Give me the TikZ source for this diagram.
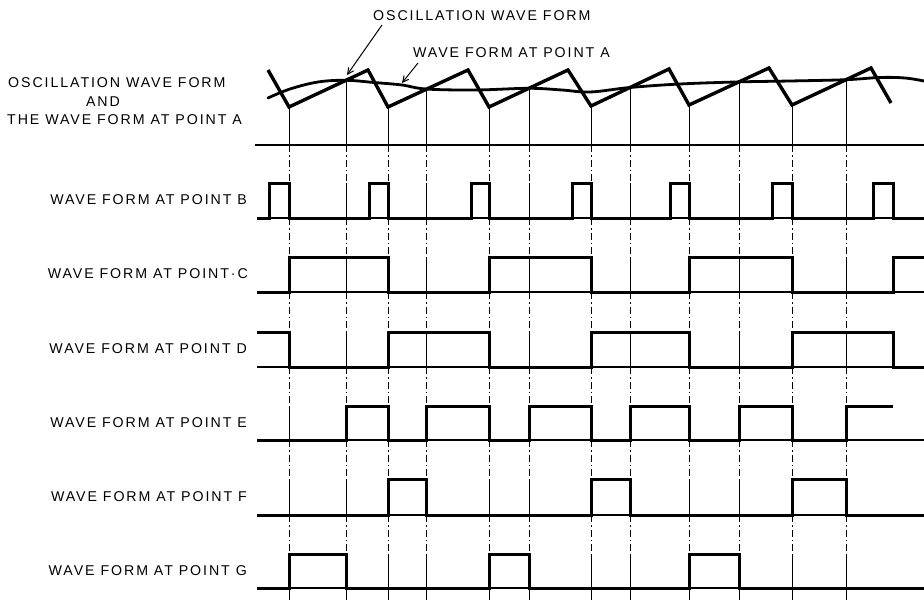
\documentclass[tikz,border=0pt]{standalone}
\usepackage{fontspec}
\usetikzlibrary{arrows.meta}
\newfontfamily\labfont[LetterSpace=13.5]{Liberation Sans}
\begin{document}
\begin{tikzpicture}[x=1pt,y=-1pt,
  lab/.style={font=\labfont\fontsize{14.2}{17}\selectfont, inner sep=0pt, text=black},
  sig/.style={line width=3pt, line join=miter, line cap=butt},
  saw/.style={line width=3.4pt, line join=miter},
  slow/.style={line width=2.8pt, line cap=round},
  base/.style={line width=1.4pt},
  gridsolid/.style={line width=0.9pt},
  griddash/.style={line width=0.9pt, dash pattern=on 7pt off 3pt on 1.5pt off 3pt},
  leader/.style={line width=1pt, -{Straight Barb[length=6pt,width=6pt]}}]
\useasboundingbox (0,0) rectangle (924,602);
\fill[white] (0,0) rectangle (924,602);

% ---------- labels ----------
\node[lab, anchor=west] (la1) at (8,83) {OSCILLATION WAVE FORM};
\node[lab] (la2) at (103,102) {AND};
\node[lab, anchor=west] (la3) at (7,120) {THE WAVE FORM AT POINT A};
\node[lab, anchor=east] (lb) at (247,200) {WAVE FORM AT POINT B};
\node[lab, anchor=east] (lc) at (248,274) {WAVE FORM AT POINT·C};
\node[lab, anchor=east] (ld) at (247,349) {WAVE FORM AT POINT D};
\node[lab, anchor=east] (le) at (247,423) {WAVE FORM AT POINT E};
\node[lab, anchor=east] (lf) at (247,497) {WAVE FORM AT POINT F};
\node[lab, anchor=east] (lg) at (247,571) {WAVE FORM AT POINT G};
\node[lab, anchor=west] (tosc) at (373,16) {OSCILLATION WAVE FORM};
\node[lab, anchor=west] (tpa) at (413,53) {WAVE FORM AT POINT A};

% ---------- grid lines ----------
\foreach \x/\t in {289/107,388/107,489/107,591/106,689/105,792/105,
                   346/80.3,426/89.4,529/88.3,630/87.5,739/81.9,846/79.7}{
  \draw[gridsolid] (\x,\t) -- (\x,145);
  \foreach \a/\b in {183/218,257/292,332/367,406/440,479/515,554/600}
    \draw[gridsolid] (\x,\a) -- (\x,\b);
  \foreach \a/\b in {145/183,218/257,292/332,367/406,440/479,515/554}
    \draw[griddash] (\x,\a) -- (\x,\b);
}

% ---------- baselines ----------
\draw[base] (255,145) -- (924,145);
\foreach \b in {218,292,367,440,515,588}
  \draw[base] (257,\b) -- (924,\b);

% ---------- oscillation / point A ----------
\draw[saw] (268,70) -- (289,107) -- (368,70) -- (388,107) -- (468,70) -- (489,107)
  -- (568,70) -- (591,106) -- (669,69) -- (689,105) -- (769,68) -- (792,105)
  -- (871,68) -- (891,103);
\draw[slow] plot[smooth, tension=0.6] coordinates {
  (268,98) (290,89) (318,82) (346,80.3) (374,82.5) (402,85) (426,89) (475,90)
  (529,88.3) (562,90) (590,92) (630,87.5) (680,84) (739,81.9) (790,81)
  (846,79.7) (880,77.5) (905,78) (924,81)};

% ---------- leaders ----------
\coordinate (oscfrom) at (382,25);
\coordinate (oscto) at (347,75);
\coordinate (pafrom) at (418,63);
\coordinate (pato) at (402,83);
\draw[leader] (oscfrom) -- (oscto);
\draw[leader] (pafrom) -- (pato);

% ---------- signals ----------
% B
\draw[sig] (257,218) -| (269,183) -| (289,218) -| (369,183) -| (388,218)
  -| (471,183) -| (489,218) -| (572,183) -| (591,218) -| (670,183) -| (689,218)
  -| (772,183) -| (792,218) -| (873,183) -| (893,218) -- (924,218);
% C
\draw[sig] (257,292) -| (289,257) -| (388,292) -| (489,257) -| (591,292)
  -| (689,257) -| (792,292) -| (893,257) -- (924,257);
% D
\draw[sig] (257,332) -| (289,367) -| (388,332) -| (489,367) -| (591,332)
  -| (689,367) -| (792,332) -| (893,367) -- (924,367);
% E
\draw[sig] (257,440) -| (346,406) -| (388,440) -| (426,406) -| (489,440)
  -| (529,406) -| (591,440) -| (630,406) -| (689,440) -| (739,406) -| (792,440)
  -| (846,406) -- (893,406);
% F
\draw[sig] (257,515) -| (388,479) -| (426,515) -| (591,479) -| (630,515)
  -| (792,479) -| (846,515) -- (924,515);
% G
\draw[sig] (257,588) -| (289,554) -| (346,588) -| (489,554) -| (529,588)
  -| (689,554) -| (739,588) -- (924,588);
\end{tikzpicture}
\end{document}
